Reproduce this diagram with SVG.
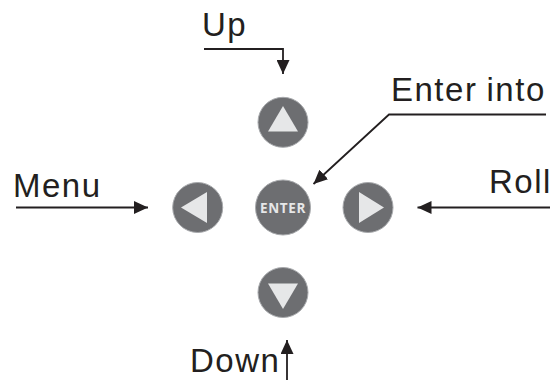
<svg xmlns="http://www.w3.org/2000/svg" width="553" height="380" viewBox="0 0 553 380">
<style>
.l{font-family:"Liberation Sans",Arial,sans-serif;font-size:33px;letter-spacing:1.500px;word-spacing:-1.500px;fill:#231f20}
.c{fill:none;stroke:#231f20;stroke-width:1.800}
.b{fill:#6d6e71;stroke:#a7a9ac;stroke-width:1}
.t{fill:#e6e7e8}
</style>
<defs><marker id="a" markerUnits="userSpaceOnUse" markerWidth="15" markerHeight="13" refX="14" refY="6.500" orient="auto"><path d="M0 0L14 6.500L0 13Z" fill="#231f20"/></marker></defs>
<rect width="553" height="380" fill="#fff"/>
<g id="connectors">
<path class="c" marker-end="url(#a)" d="M204 49H283V74"/>
<path class="c" marker-end="url(#a)" d="M546 114.500H389L313.500 184"/>
<path class="c" marker-end="url(#a)" d="M16 207.500H148"/>
<path class="c" marker-end="url(#a)" d="M550 207.500H417.500"/>
<path class="c" marker-end="url(#a)" d="M287 380V340"/>
</g>
<g id="up"><circle class="b" cx="283" cy="122.300" r="25"/><path class="t" d="M283 106L298 131.500H268Z"/></g>
<g id="left"><circle class="b" cx="197.700" cy="207.500" r="25"/><path class="t" d="M181 207.500L207 192V223Z"/></g>
<g id="enter"><circle class="b" cx="283" cy="207.500" r="27.500"/><text x="283" y="212.500" text-anchor="middle" font-family="Open Sans,sans-serif" font-weight="700" font-size="13.500" letter-spacing="0.600" fill="#e6e7e8">ENTER</text></g>
<g id="right"><circle class="b" cx="368" cy="207.500" r="25"/><path class="t" d="M384 207.500L359 192V223Z"/></g>
<g id="down"><circle class="b" cx="283" cy="292.500" r="25"/><path class="t" d="M283 309L268 283.500H298Z"/></g>
<text class="l" x="202" y="36">Up</text>
<text class="l" x="391" y="101">Enter into</text>
<text class="l" x="13" y="197">Menu</text>
<text class="l" x="489" y="192.500">Roll</text>
<text class="l" x="190" y="372">Down</text>
</svg>
